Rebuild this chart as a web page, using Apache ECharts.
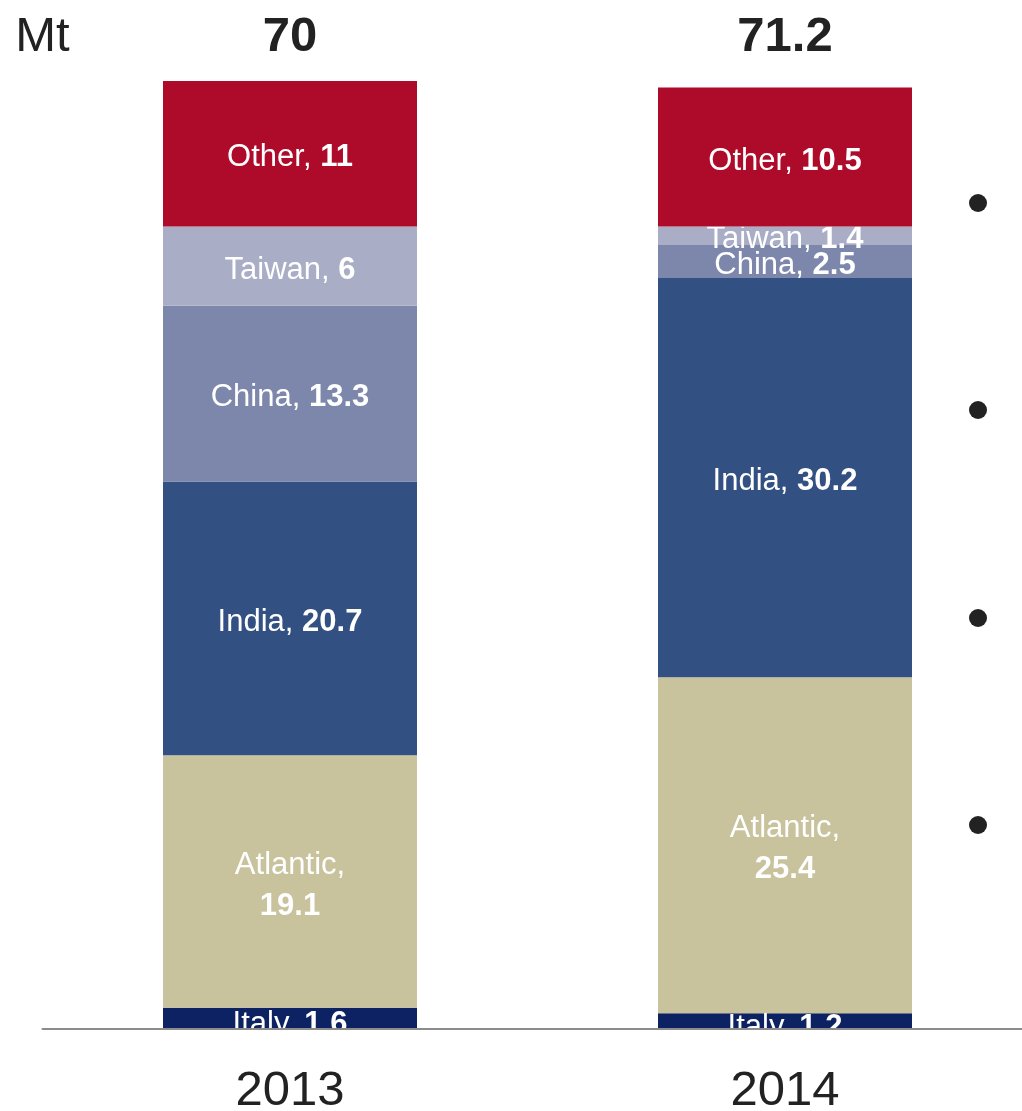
<!DOCTYPE html>
<html>
<head>
<meta charset="utf-8">
<script src="https://cdn.jsdelivr.net/npm/echarts@6/dist/echarts.min.js"></script>
<style>
html,body{margin:0;padding:0;background:#fff;}
#chart{width:1022px;height:1111px;}
</style>
</head>
<body>
<div id="chart"></div>
<script>
const years = ['2013', '2014'];
const totalLabels = ['70', '71.2'];
const italy = [1.6, 1.2];
const atlantic = [19.1, 25.4];
const india = [20.7, 30.2];
const china = [13.3, 2.5];
const taiwan = [6, 1.4];
const other = [11, 10.5];

const seriesDefs = [
  { name: 'Italy', data: italy, color: '#0d2262' },
  { name: 'Atlantic', data: atlantic, color: '#c8c29d' },
  { name: 'India', data: india, color: '#335082' },
  { name: 'China', data: china, color: '#7d87ac' },
  { name: 'Taiwan', data: taiwan, color: '#a9adc6' },
  { name: 'Other', data: other, color: '#ae0a2a' }
];

const FONT = '"Liberation Sans", Arial, sans-serif';
const LBL = 31;

const chart = echarts.init(document.getElementById('chart'), null, { renderer: 'canvas' });

const series = seriesDefs.map((d, i) => ({
  name: d.name,
  type: 'bar',
  stack: 'total',
  barWidth: 254,
  z: d.name === 'Other' ? 4 : 2,
  data: d.data,
  itemStyle: { color: d.color },
  label: {
    show: true,
    position: 'inside',
    offset: [0, d.name === 'Italy' ? 6 : 4],
    color: '#fff',
    fontFamily: FONT,
    fontSize: LBL,
    lineHeight: 41,
    formatter: p => d.name === 'Atlantic'
      ? '{n|' + d.name + ',}\n{v|' + p.value + '}'
      : '{n|' + d.name + ', }{v|' + p.value + '}',
    rich: {
      n: { color: '#fff', fontSize: LBL, fontFamily: FONT, lineHeight: 41 },
      v: { color: '#fff', fontSize: LBL, fontFamily: FONT, fontWeight: 'bold', lineHeight: 41 }
    }
  }
}));

chart.setOption({
  animation: false,
  backgroundColor: '#fff',
  grid: { left: 42.5, right: -10.5, top: 77, bottom: 82, containLabel: false, outerBoundsMode: 'none' },
  xAxis: [
    {
      type: 'category',
      data: years,
      axisLine: { show: true, lineStyle: { color: '#8c8c8c', width: 2 } },
      axisTick: { show: false },
      axisLabel: { color: '#222', fontSize: 49, fontFamily: FONT, margin: 38 },
      z: 10
    },
    {
      type: 'category',
      data: totalLabels,
      position: 'top',
      axisLine: { show: false },
      axisTick: { show: false },
      axisLabel: { color: '#222', fontSize: 49, fontWeight: 'bold', fontFamily: FONT, margin: 15 }
    }
  ],
  yAxis: {
    type: 'value',
    min: 0,
    max: 72,
    name: 'Mt',
    nameLocation: 'end',
    nameGap: 15,
    nameTextStyle: { color: '#222', fontSize: 49, fontFamily: FONT, align: 'center' },
    axisLine: { show: false },
    axisTick: { show: false },
    axisLabel: { show: false },
    splitLine: { show: false }
  },
  series: series,
  graphic: [203, 410, 618, 825].map(y => ({
    type: 'circle',
    shape: { cx: 978, cy: y, r: 9 },
    style: { fill: '#222' }
  }))
});
</script>
</body>
</html>
